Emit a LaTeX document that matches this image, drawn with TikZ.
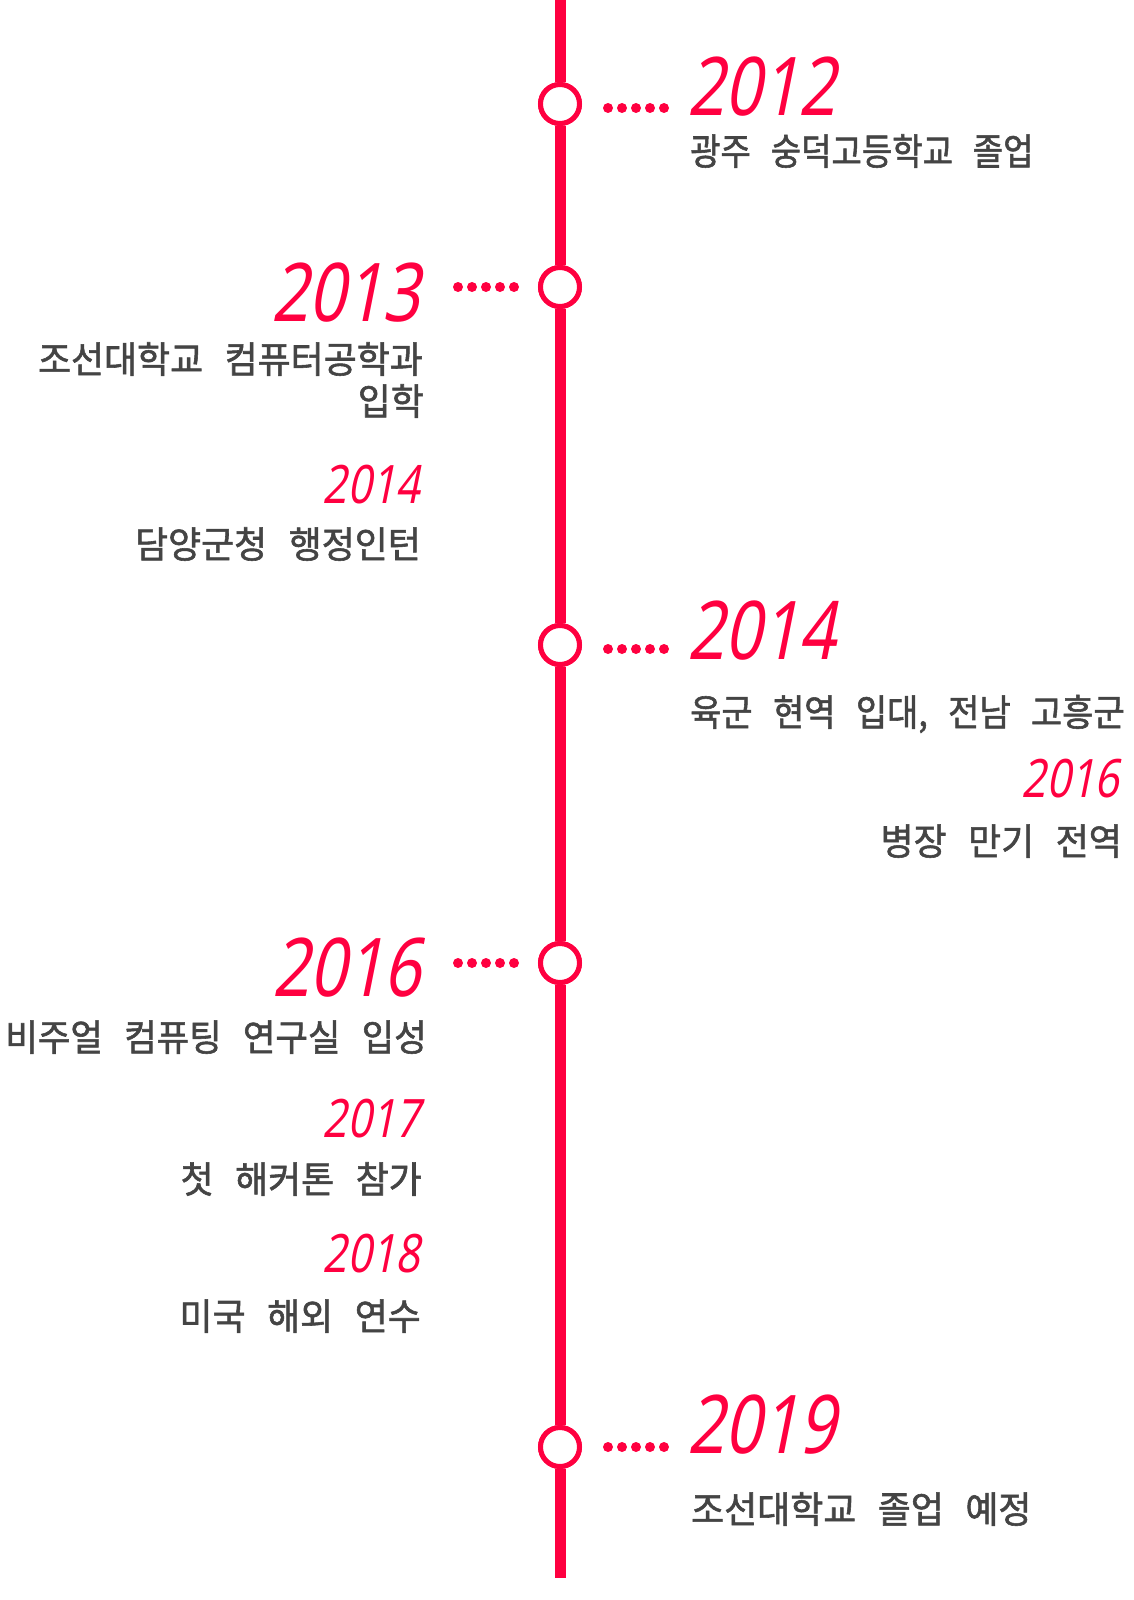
\documentclass[tikz,border=0pt]{standalone}
\usepackage{fontspec}
\newfontfamily\krfont[WordSpace=2.68,FakeStretch=0.97,FakeBold=1.5]{Noto Sans CJK KR}
\newfontfamily\yearfont[FakeSlant=0.2,FakeStretch=0.8]{Noto Sans}
\definecolor{tlred}{HTML}{FF0040}
\definecolor{tltext}{HTML}{444444}
\definecolor{tlshade}{HTML}{E2C8D0}
\pgfdeclareradialshading{ringshade}{\pgfpoint{0bp}{0bp}}{color(0bp)=(white); color(33bp)=(white); color(44bp)=(tlshade); color(50bp)=(tlshade)}
\begin{document}
\begin{tikzpicture}[x=1pt,y=-1pt,
  spine/.style={draw=tlred,line width=11pt},
  milestone/.style={circle,draw=tlred,line width=5pt,minimum size=39pt,inner sep=0pt,shade,shading=ringshade},
  leader/.style={draw=tlred,line width=10pt,line cap=round,dash pattern=on 0pt off 14pt},
  bigyear/.style={text=tlred,font=\yearfont\fontsize{81}{81}\selectfont,inner sep=0pt},
  smallyear/.style={text=tlred,font=\yearfont\fontsize{53}{53}\selectfont,inner sep=0pt},
  desc/.style={text=tltext,font=\krfont\fontsize{37}{42}\selectfont,inner sep=0pt}]
\useasboundingbox[fill=white] (0,0) rectangle (1134,1600);

% spine end points
\coordinate (top) at (560,0);
\coordinate (bot) at (560,1578);

% milestones
\node[milestone] (c1) at (560,104) {};
\node[milestone] (c2) at (560,287) {};
\node[milestone] (c3) at (560,645) {};
\node[milestone] (c4) at (560,963) {};
\node[milestone] (c5) at (560,1447) {};

\draw[spine] (top) -- (c1) (c1) -- (c2) (c2) -- (c3) (c3) -- (c4) (c4) -- (c5) (c5) -- (bot);
% redraw circles on top of spine
\node[milestone] at (c1) {};
\node[milestone] at (c2) {};
\node[milestone] at (c3) {};
\node[milestone] at (c4) {};
\node[milestone] at (c5) {};

% leader dots
\coordinate (l1a) at (608,108); \coordinate (l1b) at (665,108);
\coordinate (l2a) at (458,287); \coordinate (l2b) at (515,287);
\coordinate (l3a) at (608,649); \coordinate (l3b) at (665,649);
\coordinate (l4a) at (458,963); \coordinate (l4b) at (515,963);
\coordinate (l5a) at (608,1447); \coordinate (l5b) at (665,1447);
\draw[leader] (l1a) -- (l1b);
\draw[leader] (l2a) -- (l2b);
\draw[leader] (l3a) -- (l3b);
\draw[leader] (l4a) -- (l4b);
\draw[leader] (l5a) -- (l5b);

% 2012
\node[bigyear,anchor=base west] (y2012) at (687,116) {2012};
\node[desc,anchor=base west] (t2012) at (690,165) {\scalebox{0.92}[1]{광주 숭덕고등학교 졸업}};

% 2013
\node[bigyear,anchor=base east] (y2013) at (420,321) {2013};
\node[desc,anchor=base east] (t2013a) at (423,373) {조선대학교 컴퓨터공학과};
\node[desc,anchor=base east] (t2013b) at (424,415) {입학};
\node[smallyear,anchor=base east] (y2014s) at (420,503) {2014};
\node[desc,anchor=base east] (t2014s) at (421,558) {담양군청 행정인턴};

% 2014
\node[bigyear,anchor=base west] (y2014) at (687,659) {2014};
\node[desc,anchor=base west] (t2014a) at (690,726) {\scalebox{0.946}[1]{육군 현역 입대, 전남 고흥군}};
\node[smallyear,anchor=base east] (y2016s) at (1119,797) {2016};
\node[desc,anchor=base east] (t2016s) at (1122,855) {병장 만기 전역};

% 2016
\node[bigyear,anchor=base east] (y2016) at (421,996) {2016};
\node[desc,anchor=base east] (t2016) at (427,1051) {\scalebox{0.985}[1]{비주얼 컴퓨팅 연구실 입성}};
\node[smallyear,anchor=base east] (y2017) at (420,1137) {2017};
\node[desc,anchor=base east] (t2017) at (422,1193) {첫 해커톤 참가};
\node[smallyear,anchor=base east] (y2018) at (420,1272) {2018};
\node[desc,anchor=base east] (t2018) at (421,1330) {미국 해외 연수};

% 2019
\node[bigyear,anchor=base west] (y2019) at (687,1453) {2019};
\node[desc,anchor=base west] (t2019) at (691,1523) {조선대학교 졸업 예정};
\end{tikzpicture}
\end{document}
